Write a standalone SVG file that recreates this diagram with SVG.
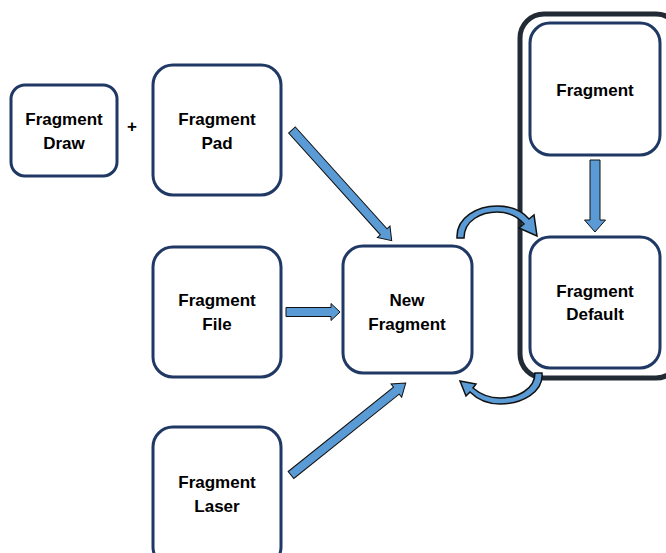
<svg xmlns="http://www.w3.org/2000/svg" width="666" height="553" viewBox="0 0 666 553">
  <style>
    .node { fill: #ffffff; stroke: #203864; stroke-width: 3; }
    .group { fill: none; stroke: #222a35; stroke-width: 5; }
    .label { font-family: "Liberation Sans", Arial, sans-serif; font-weight: bold; font-size: 17px; fill: #000000; text-anchor: middle; }
    .arrow { fill: #5b9bd5; stroke: #111111; stroke-width: 1; stroke-linejoin: miter; }
    .curve { stroke-width: 1.5; }
  </style>

  <rect width="666" height="553" fill="#ffffff"/>

  <!-- container around the right-hand column -->
  <g id="group-right">
    <rect class="group" x="520" y="14" width="160" height="364" rx="24"/>
  </g>

  <g id="node-draw">
    <rect class="node" x="11" y="85" width="106" height="91" rx="14"/>
    <text class="label" x="64" y="125">Fragment</text>
    <text class="label" x="64" y="149">Draw</text>
  </g>

  <text class="label" x="132" y="132">+</text>

  <g id="node-pad">
    <rect class="node" x="153" y="65" width="128" height="130" rx="20"/>
    <text class="label" x="217" y="125">Fragment</text>
    <text class="label" x="217" y="149">Pad</text>
  </g>

  <g id="node-file">
    <rect class="node" x="153" y="247" width="128" height="130" rx="20"/>
    <text class="label" x="217" y="306">Fragment</text>
    <text class="label" x="217" y="330">File</text>
  </g>

  <g id="node-laser">
    <rect class="node" x="153" y="427" width="128" height="140" rx="20"/>
    <text class="label" x="217" y="488">Fragment</text>
    <text class="label" x="217" y="512">Laser</text>
  </g>

  <g id="node-new">
    <rect class="node" x="343" y="246" width="129" height="127" rx="20"/>
    <text class="label" x="407" y="306">New</text>
    <text class="label" x="407" y="330">Fragment</text>
  </g>

  <g id="node-fragment">
    <rect class="node" x="530" y="23" width="130" height="132" rx="20"/>
    <text class="label" x="595" y="96">Fragment</text>
  </g>

  <g id="node-default">
    <rect class="node" x="530" y="237" width="130" height="131" rx="20"/>
    <text class="label" x="595" y="297">Fragment</text>
    <text class="label" x="595" y="320">Default</text>
  </g>

  <g id="connectors">
    <!-- Pad -> New Fragment -->
    <polygon class="arrow" transform="translate(292,130) rotate(48)"
             points="0,-4.5 137,-4.5 137,-8.5 149,0 137,8.5 137,4.5 0,4.5"/>
    <!-- File -> New Fragment -->
    <polygon class="arrow" transform="translate(286,312)"
             points="0,-4.5 45,-4.5 45,-8.5 54,0 45,8.5 45,4.5 0,4.5"/>
    <!-- Laser -> New Fragment -->
    <polygon class="arrow" transform="translate(291,475) rotate(-38.7)"
             points="0,-4.5 135,-4.5 135,-8.5 147,0 135,8.5 135,4.5 0,4.5"/>
    <!-- Fragment -> Fragment Default -->
    <polygon class="arrow" transform="translate(595,160) rotate(90)"
             points="0,-5 60,-5 60,-10.5 72,0 60,10.5 60,5 0,5"/>
    <!-- New Fragment -> Fragment Default (curved, over the top) -->
    <path class="arrow curve"
          d="M457,238 C456,217 478,206 497,206 C512,206 523,212 529,219 L534,215 L537,236 L519,228 L524,224 C518,217 508,212 497,212 C482,212 464,220 464,238 Z"/>
    <!-- Fragment Default -> New Fragment (curved, underneath) -->
    <path class="arrow curve"
          d="M542,373 C544,392 522,404 500,404 C486,404 476,398 470,392 L466,396 L460,381 L476,384 L473,388 C480,394 489,398 500,398 C518,398 535,389 535,373 Z"/>
  </g>
</svg>
